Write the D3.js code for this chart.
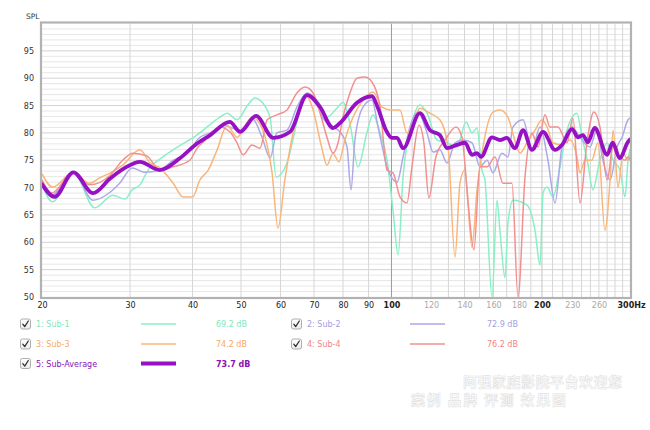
<!DOCTYPE html>
<html><head><meta charset="utf-8">
<script src="https://cdn.jsdelivr.net/npm/d3@7/dist/d3.min.js"></script>
<style>body{margin:0;background:#fff}svg{display:block}</style></head>
<body>
<svg id="c" width="650" height="430"></svg>
<script>
// ---------- data ----------
const seriesNames = ["1: Sub-1", "2: Sub-2", "3: Sub-3", "4: Sub-4", "5: Sub-Average"];
const seriesLevels = ["69.2 dB", "72.9 dB", "74.2 dB", "76.2 dB", "73.7 dB"];

// [frequency Hz, SPL dB]
const sub1 = [[20,70.5],[21.0,67.4],[23.1,72.8],[25.5,66.3],[27.7,68.6],[29.3,67.9],[30.3,69.6],[31.4,70.5],[32.6,73.2],[34.9,75.6],[36.6,76.9],[40.8,79.6],[45.4,82.9],[46.9,83.6],[49.1,82.4],[51.6,85.1],[53.3,86.4],[55.1,85.6],[57.2,82.7],[58.8,71.9],[61.8,74.5],[65.6,84.2],[67.2,86.9],[71.0,86.0],[74.3,82.9],[77.8,84.5],[80,85.6],[82.6,81.8],[85.7,73.8],[89.4,80.2],[91.8,83.3],[94.9,80.0],[98,75.0],[100.7,65.9],[103.1,57.7],[105.5,72],[109.9,81.8],[114,85.1],[117.8,83.6],[123.3,78.7],[129.2,78.2],[135.2,77.4],[141,82],[144.9,80],[148.3,80.9],[151.7,73.2],[153.8,71.4],[158.9,50],[162.6,67.7],[164.8,62.2],[168.7,53.5],[171,63.5],[175,67.7],[186.7,66.8],[193.7,62.2],[198.2,55.8],[201,69],[204.7,70.1],[210.4,68.3],[217.3,73.8],[224.4,80.5],[235,83.6],[240.5,79.2],[247,74.5],[252.8,69.6],[261.2,75],[270,78.2],[277.5,75],[286.5,73.2],[293.2,68.3],[297.3,75],[300,76.9]];

const sub2 = [[20,70.8],[20.9,68.6],[23.1,72.8],[25.3,67.7],[27.4,69.2],[28.6,70.8],[30.3,73.6],[32.1,72.8],[34.4,73.2],[36.6,75.0],[39.0,76.3],[41.4,79.2],[43.4,80.0],[46,81.4],[49.8,80.5],[52.6,82.7],[55.1,79.2],[57.2,75.4],[59,80],[61.8,80.5],[64.7,84.7],[67.8,87.3],[71,85.5],[72.9,82.7],[76.4,81.1],[78.9,80.2],[81.5,77.4],[83,69.6],[84.5,78.7],[87.7,84.7],[91.4,86.0],[94,81.1],[98,73.8],[102.6,71],[105.5,75.6],[108.9,81.1],[113,83.8],[117.8,80],[121.1,76.5],[125,76.9],[129.2,74.5],[134,78.2],[139,78.7],[144.9,78.2],[150.3,73.8],[155.3,75],[159.6,72.7],[166.3,76.3],[171,75.6],[175,81.1],[183.3,82.4],[191,76.9],[198.2,81.1],[205.6,75],[212.4,67.2],[219.3,77.4],[229.7,81.1],[238.3,79.2],[249.3,77.4],[257.6,80.5],[264.8,75],[273.7,71.4],[282.6,77.4],[289.2,79.2],[297.3,82.4],[300,82.7]];

const sub3 = [[20,72.5],[21.0,70.1],[23.1,72.8],[24.9,70.8],[26.1,71.8],[27.4,72.7],[29,74.1],[31.4,76.9],[32.9,74.5],[34.4,73.6],[36.6,70.8],[38.3,68.3],[40,68.3],[41.4,71.4],[43,73.2],[44.8,76.9],[46.9,81.4],[49.1,79.2],[50.5,80.5],[52.6,82.9],[53.8,82.4],[55.9,79.2],[57.7,72.7],[59.3,62.6],[61.2,71.4],[63.3,79.2],[65.6,84.2],[67.8,86.6],[69.7,84.2],[72.5,77.4],[74.3,74.1],[76.4,76.3],[78.5,74.7],[80.7,78.7],[83.8,82.9],[87.7,86],[91.8,87.5],[95.8,84.7],[99.4,84.2],[104,84.2],[107.4,80],[110.4,81.8],[114,84.5],[119.4,83.6],[125,82.4],[129.8,77.4],[134,57.3],[137.1,70.8],[140.3,73.2],[144.9,59.1],[148.3,69.6],[152.4,77.4],[159.6,83.8],[164.8,84.2],[171,82.9],[174.2,80.5],[180.8,76.3],[186.7,78.2],[193.7,80.5],[200.1,82.4],[204.7,81.1],[210.4,78.2],[219.3,77.8],[227.5,78.7],[235,75.6],[238.3,72.7],[243.8,75],[251.6,75],[258.8,78.2],[267.3,62.2],[273.7,71.4],[277.5,80.5],[283.9,70.1],[290.5,76.3],[297.3,75],[300,76]];

const sub4 = [[20,71.4],[20.9,69],[23.1,72.8],[24.9,70.5],[27.4,72.3],[29,75],[30.4,76.3],[32.4,75.8],[34.4,73.2],[36.6,73.8],[39.5,75],[41,77.4],[42,78.3],[45.4,81.1],[47.5,80.2],[49.1,78.2],[50.5,76],[52.6,77.8],[54.6,77.2],[56.4,82.4],[59,83.3],[61.8,84.2],[64.7,87.3],[67.2,88.4],[69.7,87.3],[72,83.6],[74.3,79.2],[76.4,76.3],[78.2,78.2],[80,82.9],[82.6,87.3],[85.3,90],[88.5,90.2],[91.4,89.3],[94.9,84.7],[98,73.2],[100.7,72.7],[104,68.3],[107.4,67.2],[109.9,73.8],[113.5,81.4],[116.1,78.2],[118.8,68.1],[122.7,75.6],[128,78.7],[134.6,81.1],[138.4,79.2],[142.3,67.2],[146.2,58.6],[150.3,73.8],[155.3,73.8],[161.1,75.6],[167.1,70.8],[174.2,70.8],[179.1,50],[185,72],[191,80],[196.4,77.4],[202.8,83.3],[207.5,81.1],[215.3,81.1],[224.4,78.2],[230.7,82.7],[238.3,67.2],[246,78.2],[254,83.8],[261.2,81.1],[270,71.4],[277.5,77.4],[286.5,75.6],[293.2,75],[297.3,75.6],[300,75]];

const subAvg = [[20,70.6],[21.2,68.3],[23.1,72.8],[25.3,69.0],[27.4,71.7],[29.3,73.6],[31.4,74.7],[34.4,73.2],[37.8,75.4],[40.5,77.8],[43.4,79.6],[47.5,82.0],[49.8,80.2],[53.6,83.1],[58,79.1],[62.7,80.2],[67.8,86.9],[72,84.7],[76.4,80.9],[78.9,81.8],[85.3,85.5],[91.4,86.7],[94,84.5],[97.5,80.5],[100.2,79.1],[102.6,79.1],[105.5,77.2],[114,83.6],[119.4,80.5],[125,79.6],[129.2,77.2],[135.2,77.8],[140.3,78.2],[144.9,76.0],[148.3,76.3],[151,75.6],[158.9,79.2],[164.8,78.7],[170.2,79.1],[176.6,77.2],[183.3,80.5],[191,76.9],[201,80.2],[212.4,76.9],[219.3,77.8],[229.7,80.7],[236,79.2],[241.6,79.6],[247,78.3],[255,80.9],[270,76.0],[277,78.2],[286,75.4],[297,78.3],[300,78.8]];

const xTickValues = [20,30,40,50,60,70,80,90,100,120,140,160,180,200,230,260,300];
const xTickLabels = ["20","30","40","50","60","70","80","90","100","120","140","160","180","200","230","260","300Hz"];
const xDarkTicks = [20,30,40,50,60,70,80,90,100,200,300];
const xGridValues = [30,40,50,60,70,80,90,100,110,120,130,140,150,160,170,180,190,200,210,220,230,240,250,260,270,280,290];
const yTickValues = [50,55,60,65,70,75,80,85,90,95];
const watermark = ["阿强家庭影院平台欢迎您", "案例 品牌 评测 效果图"];

// ---------- styles ----------
const colors = ["#8aefc6", "#aca9e8", "#f9b67a", "#f29090", "#9610c4"];
const textColors = ["#7fe6bb", "#a3a1e2", "#f5aa68", "#ef8585", "#8a12b8"];

const svg = d3.select("#c");
const L = 42, R = 630, T = 23.5, B = 297;
const x = d3.scaleLog().domain([20, 300]).range([L, R]);
const y = d3.scaleLinear().domain([50, 100]).range([B, T]);

// grid
const g = svg.append("g");
g.append("rect").attr("x", L).attr("y", T).attr("width", R - L).attr("height", B - T).attr("fill", "#fff");
g.selectAll("line.hmin").data(d3.range(51, 100)).join("line")
  .attr("x1", L).attr("x2", R).attr("y1", d => y(d)).attr("y2", d => y(d))
  .attr("stroke", d => d % 5 === 0 ? "#d2d2d2" : "#e7e7e7").attr("stroke-width", 1);
g.selectAll("line.v").data(xGridValues).join("line")
  .attr("x1", d => x(d)).attr("x2", d => x(d)).attr("y1", T).attr("y2", B)
  .attr("stroke", d => d === 100 ? "#9a9a9a" : (d === 200 ? "#c4c4c4" : "#d6d6d6")).attr("stroke-width", 1);

// lines
svg.append("clipPath").attr("id", "clip").append("rect")
  .attr("x", L).attr("y", T).attr("width", R - L).attr("height", B - T);
const line = d3.line().x(d => x(d[0])).y(d => y(d[1])).curve(d3.curveMonotoneX);
const all = [sub1, sub2, sub3, sub4, subAvg];
const lg = svg.append("g").attr("clip-path", "url(#clip)");
all.forEach((s, i) => {
  lg.append("path").attr("d", line(s)).attr("fill", "none")
    .attr("stroke", colors[i]).attr("stroke-width", i === 4 ? 3.8 : 1.5)
    .attr("stroke-linejoin", "round").attr("stroke-linecap", "round");
});

// frame
svg.append("rect").attr("x", L - 1).attr("y", T - 1).attr("width", R - L + 2).attr("height", B - T + 2)
  .attr("fill", "none").attr("stroke", "#b2b2b2").attr("stroke-width", 2.2);

// axes
const font = "'DejaVu Sans', Verdana, sans-serif";
const yAxis = d3.axisLeft(y).tickValues(yTickValues).tickSize(0).tickPadding(6);
const ya = svg.append("g").attr("transform", `translate(${L - 2},0)`).call(yAxis);
ya.select(".domain").remove();
ya.selectAll("text").attr("font-family", font).attr("font-size", 8).attr("fill", "#333");

const xAxis = d3.axisBottom(x).tickValues(xTickValues).tickSize(0).tickPadding(5)
  .tickFormat((d, i) => xTickLabels[i]);
const xa = svg.append("g").attr("transform", `translate(0,${B})`).call(xAxis);
xa.select(".domain").remove();
xa.selectAll("text").attr("font-family", font).attr("font-size", 8)
  .attr("fill", d => xDarkTicks.includes(d) ? "#222" : "#a8a8a8")
  .attr("font-weight", d => (d === 100 || d === 200 || d === 300) ? "bold" : "normal")
  .attr("text-anchor", d => d === 300 ? "start" : "middle")
  .attr("dx", d => d === 300 ? -13 : 0);

svg.append("text").attr("x", 26).attr("y", 19).text("SPL")
  .attr("font-family", font).attr("font-size", 7.5).attr("fill", "#333");

// legend
const legendPos = [
  {cx: 20.5, ty: 324, lx1: 141, lx2: 176, vx: 216},
  {cx: 291.5, ty: 324, lx1: 410, lx2: 445, vx: 487},
  {cx: 20.5, ty: 344, lx1: 141, lx2: 176, vx: 216},
  {cx: 291.5, ty: 344, lx1: 410, lx2: 445, vx: 487},
  {cx: 20.5, ty: 363.5, lx1: 141, lx2: 176, vx: 216}
];
const defs = svg.append("defs");
const grad = defs.append("linearGradient").attr("id", "cb").attr("x1", 0).attr("y1", 0).attr("x2", 0).attr("y2", 1);
grad.append("stop").attr("offset", "0%").attr("stop-color", "#ffffff");
grad.append("stop").attr("offset", "100%").attr("stop-color", "#ececec");
seriesNames.forEach((name, i) => {
  const p = legendPos[i];
  const lgG = svg.append("g");
  lgG.append("rect").attr("x", p.cx).attr("y", p.ty - 5).attr("width", 10).attr("height", 10).attr("rx", 2)
    .attr("fill", "url(#cb)").attr("stroke", "#9a9a9a").attr("stroke-width", 0.8);
  lgG.append("path").attr("d", `M${p.cx + 2.3},${p.ty + 0.2} L${p.cx + 4.2},${p.ty + 2.6} L${p.cx + 7.8},${p.ty - 3}`)
    .attr("fill", "none").attr("stroke", "#333").attr("stroke-width", 1.3).attr("stroke-linecap", "round").attr("stroke-linejoin", "round");
  lgG.append("text").attr("x", p.cx + 15.5).attr("y", p.ty + 3).text(name)
    .attr("font-family", font).attr("font-size", 8).attr("fill", textColors[i]);
  lgG.append("line").attr("x1", p.lx1).attr("x2", p.lx2).attr("y1", p.ty).attr("y2", p.ty)
    .attr("stroke", colors[i]).attr("stroke-width", i === 4 ? 3.8 : 1.6);
  lgG.append("text").attr("x", p.vx).attr("y", p.ty + 3).text(seriesLevels[i])
    .attr("font-family", font).attr("font-size", 8).attr("fill", textColors[i])
    .attr("font-weight", i === 4 ? "bold" : "normal");
});

// watermark
const wm = svg.append("g").attr("font-family", "'Noto Sans CJK SC', sans-serif").attr("font-size", 14)
  .attr("font-weight", "bold").attr("fill", "#ffffff").attr("stroke", "#e2e2e2").attr("stroke-width", 0.6);
wm.append("text").attr("x", 463).attr("y", 387).text(watermark[0]).attr("textLength", 159);
wm.append("text").attr("x", 411).attr("y", 405).text(watermark[1]).attr("textLength", 155);
</script>
</body></html>
